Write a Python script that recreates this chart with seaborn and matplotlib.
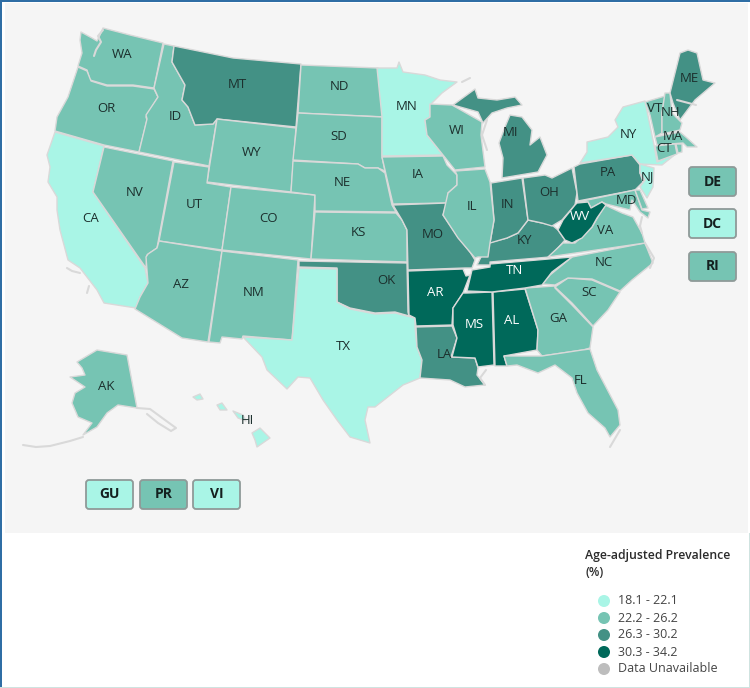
import matplotlib
matplotlib.use("Agg")
import matplotlib.pyplot as plt
from matplotlib.patches import FancyBboxPatch, Rectangle, Polygon
import seaborn as sns
import pandas as pd

# prevalence class per state: 0..3
CLASS_COLORS = ["#a9f5e6", "#76c4b3", "#439185", "#00695a"]
LEGEND_LABELS = ["18.1 - 22.1", "22.2 - 26.2", "26.3 - 30.2", "30.3 - 34.2", "Data Unavailable"]
LEGEND_COLORS = CLASS_COLORS + ["#bdbdbd"]
LEGEND_TITLE = ["Age-adjusted Prevalence", "(%)"]

CLASS1 = ["CA", "TX", "MN", "NY", "NJ", "HI"]
CLASS3 = ["MT", "OK", "MO", "LA", "MI", "MI2", "IN", "OH", "KY", "PA", "ME"]
CLASS4 = ["AR", "MS", "AL", "TN", "WV"]

OUTLINES = {
 "WA": [(81,32),(92,38),(97,41),(100,35),(103,28),(130,35),(163,43),(154,88),(133,85),(107,85),(90,80),(87,70),(78,66),(82,53),(80,40)],
 "OR": [(78,67),(87,71),(91,81),(107,86),(133,86),(154,89),(158,97),(152,107),(146,117),(147,120),(139,152),(104,145),(55,131),(57,117),(68,97)],
 "CA": [(55,132),(104,146),(93,192),(145,268),(148,283),(140,297),(136,308),(104,303),(97,290),(80,268),(68,260),(60,230),(57,210),(57,197),(48,182),(50,167),(47,155)],
 "NV": [(104,147),(173,161),(157,248),(147,255),(146,268),(93,192)],
 "ID": [(164,44),(174,46),(172,62),(185,85),(182,100),(188,107),(195,125),(213,124),(217,119),(209,166),(139,152),(147,119),(146,115),(158,97),(154,88)],
 "MT": [(174,46),(233,58),(301,64),(296,127),(217,119),(213,124),(195,125),(188,107),(182,100),(185,85),(172,62)],
 "WY": [(217,119),(296,128),(291,192),(207,182)],
 "UT": [(174,162),(209,167),(207,183),(231,187),(222,250),(159,241)],
 "CO": [(231,187),(315,195),(311,259),(222,250)],
 "AZ": [(159,241),(222,251),(208,342),(182,338),(135,309),(140,297),(148,283),(146,257),(148,254),(157,248)],
 "NM": [(222,251),(298,260),(292,340),(243,336),(242,339),(222,337),(220,343),(209,342)],
 "ND": [(301,65),(378,68),(383,100),(386,117),(298,113)],
 "SD": [(298,113),(382,117),(382,157),(385,171),(378,168),(365,168),(358,164),(293,160)],
 "NE": [(293,161),(358,164),(365,168),(378,168),(385,173),(392,205),(396,212),(315,211),(315,195),(291,192)],
 "KS": [(315,212),(396,213),(402,220),(407,230),(407,262),(311,259)],
 "OK": [(299,261),(407,263),(408,312),(409,316),(395,312),(375,313),(350,308),(337,302),(337,268),(299,267)],
 "TX": [(299,268),(337,269),(337,302),(350,309),(375,314),(395,313),(415,318),(415,327),(417,347),(422,360),(420,378),(403,385),(375,407),(368,407),(365,420),(370,443),(350,437),(337,420),(323,400),(310,378),(298,377),(287,389),(267,370),(262,357),(243,337),(292,340)],
 "MN": [(377,68),(397,68),(399,62),(403,72),(425,75),(440,80),(457,82),(442,93),(430,105),(430,117),(425,120),(427,135),(443,155),(382,156),(382,117)],
 "IA": [(382,157),(443,156),(447,165),(457,175),(457,185),(448,193),(447,203),(393,204),(388,183)],
 "MO": [(393,205),(447,203),(443,215),(458,237),(470,252),(475,260),(472,268),(465,268),(408,270),(407,230),(402,220)],
 "AR": [(408,271),(463,269),(466,276),(470,275),(463,293),(453,308),(452,325),(416,326),(415,318),(409,315)],
 "LA": [(416,327),(452,326),(457,338),(451,357),(475,358),(478,368),(477,375),(485,385),(465,387),(450,380),(420,378),(422,360),(417,347)],
 "MS": [(467,293),(492,292),(494,365),(478,367),(475,358),(452,357),(457,338),(453,325),(453,308),(463,293)],
 "AL": [(493,292),(525,289),(538,330),(537,350),(504,356),(507,366),(495,366)],
 "GA": [(525,288),(555,286),(555,288),(572,305),(593,327),(590,348),(583,350),(542,356),(537,350),(538,330)],
 "SC": [(555,287),(568,278),(592,280),(620,292),(608,310),(593,326),(572,303)],
 "NC": [(572,257),(645,243),(653,263),(632,280),(620,291),(592,279),(568,278),(555,285),(542,284),(550,275)],
 "TN": [(467,291),(472,270),(490,267),(490,264),(572,257),(552,272),(542,285),(525,288),(492,292)],
 "KY": [(477,265),(488,243),(507,238),(518,233),(528,220),(542,223),(552,225),(558,230),(565,240),(550,257),(490,262),(490,265)],
 "IN": [(491,183),(522,178),(528,220),(518,233),(507,238),(490,243),(494,220)],
 "OH": [(523,178),(545,175),(552,178),(572,168),(577,193),(575,205),(562,220),(552,226),(542,223),(528,220)],
 "IL": [(455,171),(485,169),(490,182),(494,220),(490,243),(488,257),(478,257),(475,258),(458,238),(443,215),(448,193),(457,185),(457,175)],
 "WI": [(430,104),(452,105),(482,122),(481,135),(485,167),(455,170),(443,155),(427,135),(425,120),(430,117)],
 "MI": [(453,105),(475,89),(478,98),(497,100),(515,97),(522,105),(507,108),(492,113),(483,123),(478,112)],
 "MI2": [(502,178),(503,158),(499,143),(505,127),(510,115),(522,117),(532,130),(530,145),(540,137),(547,155),(538,172)],
 "PA": [(574,167),(580,164),(632,155),(640,165),(640,173),(643,182),(635,190),(578,201)],
 "NY": [(580,163),(587,152),(587,142),(608,137),(618,127),(615,120),(623,107),(645,101),(654,145),(657,162),(677,153),(662,165),(640,164),(632,155)],
 "NJ": [(640,164),(654,168),(653,187),(647,198),(640,187),(645,180),(640,173)],
 "VT": [(645,102),(665,96),(662,113),(662,133),(655,137),(650,115)],
 "NH": [(665,93),(670,93),(672,113),(682,123),(680,130),(662,134),(662,113)],
 "ME": [(680,53),(688,50),(697,53),(703,80),(715,83),(695,100),(680,120),(673,103),(670,93),(675,73)],
 "MA": [(655,137),(680,132),(687,138),(697,147),(687,147),(683,143),(657,145)],
 "CT": [(655,146),(675,144),(677,154),(658,161)],
 "RI": [(676,144),(682,144),(682,152),(678,153)],
 "MD": [(578,202),(635,190),(642,210),(650,212),(648,218),(640,212),(632,200),(630,210),(606,204),(602,202),(591,208),(588,202)],
 "DE": [(635,190),(640,190),(648,208),(642,209)],
 "VA": [(548,257),(563,243),(575,243),(592,227),(605,205),(622,213),(633,217),(642,233),(645,243)],
 "WV": [(558,230),(563,220),(575,205),(577,203),(588,202),(591,208),(602,202),(606,205),(597,218),(592,227),(582,238),(572,243),(565,240)],
 "FL": [(504,356),(542,356),(582,350),(590,349),(597,370),(618,410),(620,425),(610,437),(605,428),(588,413),(577,393),(572,378),(555,365),(538,373),(517,365),(507,366)],
 "AK": [(77,362),(97,350),(127,355),(137,408),(118,405),(107,413),(97,427),(83,435),(92,423),(78,417),(72,403),(75,393),(85,387),(70,377),(85,375),(82,368)],
 "HI": [(252,433),(260,428),(270,438),(257,447),(255,440)],
 "HI2": [(217,405),(222,403),(227,410),(220,410)],
 "HI3": [(193,397),(200,394),(203,399),(197,400)],
 "HI4": [(233,411),(243,415),(246,421),(238,418)],
}
COAST_LINES = [
 [(103,30),(98,36),(101,42),(96,50),(94,56)],
 [(137,408),(150,409),(165,420),(176,428),(171,431),(158,423),(147,414)],
 [(83,437),(70,441),(50,446),(36,447),(23,445)],
 [(67,268),(72,271),(80,273)],
 [(89,286),(87,293)],
 [(462,82),(470,78)],
 [(487,120),(482,135),(487,150)],
 [(642,217),(640,226),(642,233)],
 [(645,243),(654,258),(650,268)],
 [(620,430),(610,447)],
 [(677,100),(696,105)],
 [(485,385),(480,378),(486,370)],
]
LABELS = {
 "WA":(122,54),"OR":(106,108),"CA":(91,218),"NV":(135,192),"ID":(175,117),"MT":(237,84),"WY":(252,152),"UT":(194,204),
 "CO":(269,219),"AZ":(181,285),"NM":(254,293),"ND":(339,87),"SD":(339,136),"NE":(342,183),"KS":(358,233),"OK":(386,281),
 "TX":(343,347),"MN":(407,107),"IA":(418,175),"MO":(433,235),"AR":(435,292),"LA":(444,354),"MS":(474,325),"AL":(512,321),
 "GA":(558,318),"SC":(589,293),"NC":(604,263),"TN":(514,271),"KY":(524,241),"IN":(508,205),"OH":(549,193),"IL":(472,206),
 "WI":(457,131),"MI":(511,132),"PA":(608,173),"NY":(628,135),"NJ":(648,177),"VT":(655,109),"NH":(671,113),"ME":(689,79),
 "MA":(673,136),"CT":(664,149),"MD":(626,201),"VA":(605,230),"WV":(580,216),"FL":(581,381),"AK":(106,386),"HI":(247,421),
}
BUTTON_NAMES = ["DE", "DC", "RI", "GU", "PR", "VI"]
BUTTON_CLASS = [1, 0, 1, 0, 1, 0]
BUTTON_BOX = [(689,167),(689,209),(689,252),(86,480),(140,480),(193,480)]


def state_class(name):
    if name in CLASS1 or name.startswith("HI"):
        return 0
    if name in CLASS3:
        return 2
    if name in CLASS4:
        return 3
    return 1


sns.set_theme(style="white")
plt.rcParams["font.family"] = ["Open Sans", "DejaVu Sans"]
fig = plt.figure(figsize=(7.5, 6.88), dpi=100)
ax = fig.add_axes([0, 0, 1, 1])

ax.add_patch(Rectangle((0, 0), 750, 688, fc="white", ec="none", zorder=0))
ax.add_patch(Rectangle((5, 3), 743, 530, fc="#f5f5f5", ec="none", zorder=0))
ax.add_patch(Rectangle((0, 0), 750, 1.6, fc="#2f6ea5", ec="none", zorder=5))
ax.add_patch(Rectangle((0, 0), 1.6, 688, fc="#2f6ea5", ec="none", zorder=5))
ax.add_patch(Rectangle((748.5, 533), 1.5, 155, fc="#cfe3e0", ec="none", zorder=5))
ax.add_patch(Rectangle((0, 686.5), 750, 1.5, fc="#cfe3e0", ec="none", zorder=5))

for name, pts in OUTLINES.items():
    ax.add_patch(Polygon(pts, closed=True, fc=CLASS_COLORS[state_class(name)], ec="#d9d9d9",
                         lw=1.0, joinstyle="round", zorder=2))
for pts in COAST_LINES:
    xs, ys = zip(*pts)
    ax.plot(xs, ys, color="#d9d9d9", lw=1.5, solid_capstyle="round", zorder=2.5)

for name, (x, y) in LABELS.items():
    dark = state_class(name) == 3
    ax.text(x, y, name, ha="center", va="center", fontsize=9.5,
            color="white" if dark else "#1c2f2d", zorder=4)

for name, cls, (x, y) in zip(BUTTON_NAMES, BUTTON_CLASS, BUTTON_BOX):
    ax.add_patch(FancyBboxPatch((x, y), 47, 29, boxstyle="round,pad=0,rounding_size=3",
                                mutation_aspect=1, fc=CLASS_COLORS[cls], ec="#8f9a98", lw=1.3, zorder=3))
    ax.text(x + 23.5, y + 14.5, name, ha="center", va="center", fontsize=10,
            fontweight="bold", color="#14201f", zorder=4)

for i, line in enumerate(LEGEND_TITLE):
    ax.text(585, 555 + i * 18, line, ha="left", va="center", fontsize=8.8,
            fontweight="semibold", color="#2b2b2b", zorder=4)

legend_df = pd.DataFrame({"x": [604] * 5, "y": [601, 618, 635, 652, 669], "label": LEGEND_LABELS})
sns.scatterplot(data=legend_df, x="x", y="y", hue="label", palette=dict(zip(LEGEND_LABELS, LEGEND_COLORS)),
                s=75, linewidth=0, legend=False, ax=ax, zorder=4)
for _, row in legend_df.iterrows():
    ax.text(618, row["y"], row["label"], ha="left", va="center", fontsize=9, color="#444444", zorder=4)
ax.set_xlim(0, 750)
ax.set_ylim(688, 0)
ax.axis("off")

fig.savefig("out.png", dpi=100)
